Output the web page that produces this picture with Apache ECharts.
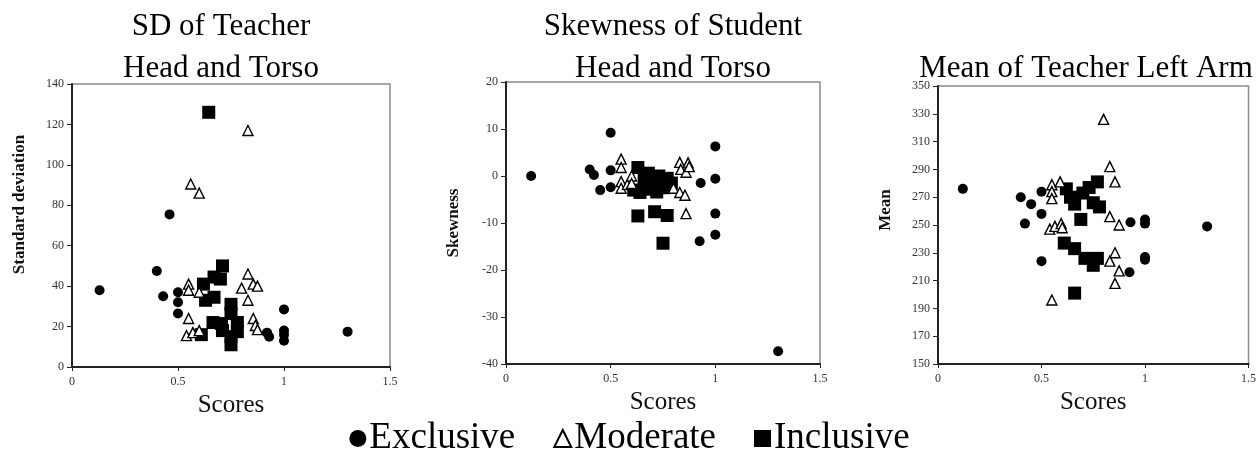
<!DOCTYPE html>
<html>
<head>
<meta charset="utf-8">
<script src="https://cdn.jsdelivr.net/npm/echarts@6/dist/echarts.min.js"></script>
<style>
html,body{margin:0;padding:0;background:#fff;}
#chart{width:1259px;height:454px;}
</style>
</head>
<body>
<div id="chart"></div>
<script>
// ---- Data: [score, value] pairs ----
var groupNames = ['Exclusive', 'Moderate', 'Inclusive'];
var panelTitles = ['SD of Teacher\nHead and Torso', 'Skewness of Student\nHead and Torso', 'Mean of Teacher Left Arm'];
var yAxisNames = ['Standard deviation', 'Skewness', 'Mean'];
var xAxisName = 'Scores';
var xTicks = [0, 0.5, 1, 1.5];

// Panel 1: SD of Teacher Head and Torso
var sdExclusive = [[0.13,38],[0.46,75.5],[0.40,47.5],[0.43,35],[0.50,37],[0.50,32],[0.50,26.5],
  [1.00,28.5],[0.92,17],[0.93,15],[1.00,18],[1.00,16],[1.00,13],[1.30,17.5]];
var sdModerate = [[0.56,90.5],[0.60,86],[0.83,117],[0.55,41],[0.55,38],[0.60,37],[0.55,24],
  [0.54,15.5],[0.57,17],[0.60,18],[0.83,46],[0.80,39],[0.855,41],[0.875,40],[0.83,33],
  [0.855,24],[0.865,20.5],[0.875,18.5]];
var sdInclusive = [[0.645,126],[0.71,50],[0.67,44.5],[0.70,43.5],[0.62,41],[0.63,33],[0.67,34.5],
  [0.75,31],[0.75,26.5],[0.665,22],[0.705,21.5],[0.71,18],[0.78,22],[0.78,17.5],[0.75,15],
  [0.75,11],[0.61,16]];

// Panel 2: Skewness of Student Head and Torso
var skExclusive = [[0.12,0],[0.50,9.2],[0.40,1.4],[0.42,0.2],[0.50,1.2],[0.45,-3],[0.50,-2.4],
  [1.00,6.3],[0.93,-1.5],[1.00,-0.6],[1.00,-8],[1.00,-12.5],[0.925,-13.9],[1.30,-37.3]];
var skModerate = [[0.55,3.6],[0.55,1.8],[0.55,-1.2],[0.55,-2.6],[0.58,-1.8],[0.60,0],[0.60,-1.6],
  [0.83,2.9],[0.87,2.8],[0.835,1.4],[0.86,0.8],[0.875,2],[0.80,-2.6],[0.83,-3.5],[0.855,-4.1],[0.86,-8]];
var skInclusive = [[0.63,1.8],[0.66,-0.5],[0.68,0.6],[0.70,-1],[0.73,0],[0.75,-1.2],[0.77,-0.5],
  [0.79,-1.5],[0.61,-3],[0.64,-3.5],[0.66,-2.8],[0.70,-2.5],[0.72,-3.4],[0.75,-2.5],[0.78,-2.3],
  [0.74,-1.8],[0.63,-8.5],[0.71,-7.6],[0.77,-8.4],[0.75,-14.3]];

// Panel 3: Mean of Teacher Left Arm
var mnExclusive = [[0.12,276],[0.40,270],[0.45,265],[0.50,274],[0.42,251],[0.50,258],[0.50,224],
  [0.93,252],[1.00,254],[1.00,251],[1.30,249],[1.00,227],[1.00,225],[0.925,216]];
var mnModerate = [[0.55,279],[0.55,274],[0.55,269],[0.59,281],[0.54,247],[0.565,249],[0.595,251],
  [0.60,248],[0.55,196],[0.80,326],[0.83,292],[0.855,281],[0.83,256],[0.875,250],[0.855,230],
  [0.83,224],[0.875,217],[0.855,208]];
var mnInclusive = [[0.62,276],[0.64,270],[0.66,265],[0.70,273],[0.73,277],[0.77,281],[0.75,266],
  [0.78,263],[0.69,254],[0.61,237],[0.66,233],[0.71,226],[0.75,221],[0.77,226],[0.66,201]];

var yRanges = [[0,140,20],[-40,20,10],[150,350,20]];
var panelData = [
  [sdExclusive, sdModerate, sdInclusive],
  [skExclusive, skModerate, skInclusive],
  [mnExclusive, mnModerate, mnInclusive]
];

// ---- Layout ----
var grids = [
  {left:72, top:84, width:318, height:283},
  {left:506, top:82, width:314, height:282},
  {left:938, top:86, width:311, height:278}
];
var titlePos = [{x:216, top:1}, {x:668, top:1}, {x:1081, top:43}];
var yNameShift = [42, 0, 30];
var serif = 'Liberation Serif';

var chart = echarts.init(document.getElementById('chart'), null, {renderer:'canvas'});

var option = {
  animation:false,
  backgroundColor:'#fff',
  title: panelTitles.map(function(t,i){
    return {text:t, left:titlePos[i].x, top:titlePos[i].top, textAlign:'center',
      textStyle:{fontFamily:serif, fontSize:31, fontWeight:'normal', color:'#000', lineHeight:42}};
  }),
  grid: grids.map(function(g){
    return {left:g.left, top:g.top, width:g.width, height:g.height, show:true,
      borderColor:'#8a8a8a', borderWidth:1.5, backgroundColor:'transparent'};
  }),
  xAxis: grids.map(function(g,i){
    return {gridIndex:i, type:'value', min:xTicks[0], max:xTicks[xTicks.length-1], interval:0.5,
      name:xAxisName, nameLocation:'middle', nameGap:24,
      nameTextStyle:{fontFamily:serif, fontSize:25, color:'#111'},
      axisLine:{show:true, onZero:false, lineStyle:{color:'#222', width:2}},
      axisTick:{show:true, length:4, lineStyle:{color:'#222'}},
      axisLabel:{fontFamily:serif, fontSize:12, color:'#333', margin:9},
      splitLine:{show:false}};
  }),
  yAxis: grids.map(function(g,i){
    return {gridIndex:i, type:'value', min:yRanges[i][0], max:yRanges[i][1], interval:yRanges[i][2],
      name:yAxisNames[i], nameLocation:'middle', nameGap:44, nameRotate:90,
      nameTextStyle:{fontFamily:serif, fontSize:17, fontWeight:'bold', color:'#111',
        padding:[0,0,0,yNameShift[i]]},
      axisLine:{show:true, onZero:false, lineStyle:{color:'#222', width:2}},
      axisTick:{show:true, length:5, lineStyle:{color:'#222'}},
      axisLabel:{fontFamily:serif, fontSize:12, color:'#333', margin:8},
      splitLine:{show:false}};
  }),
  legend:{
    data:[
      {name:'Exclusive', icon:'circle'},
      {name:'Moderate', icon:'triangle'},
      {name:'Inclusive', icon:'rect'}
    ],
    left:'center', top:415, itemWidth:17, itemHeight:17, itemGap:38,
    textStyle:{fontFamily:serif, fontSize:37, color:'#000', padding:[0,0,0,-2]}
  },
  series:[]
};

var symbols = ['circle','triangle','rect'];
var sizes = [10, 10, 13];
var styles = [
  {color:'#000', opacity:1},
  {color:'#fff', borderColor:'#000', borderWidth:1.4, opacity:1},
  {color:'#000', opacity:1}
];
panelData.forEach(function(groups, p){
  groups.forEach(function(pts, gi){
    option.series.push({
      name:groupNames[gi], type:'scatter', xAxisIndex:p, yAxisIndex:p,
      symbol:symbols[gi], symbolSize:sizes[gi], itemStyle:styles[gi],
      data:pts, z: gi===1 ? 3 : 2
    });
  });
});

chart.setOption(option);
</script>
</body>
</html>
